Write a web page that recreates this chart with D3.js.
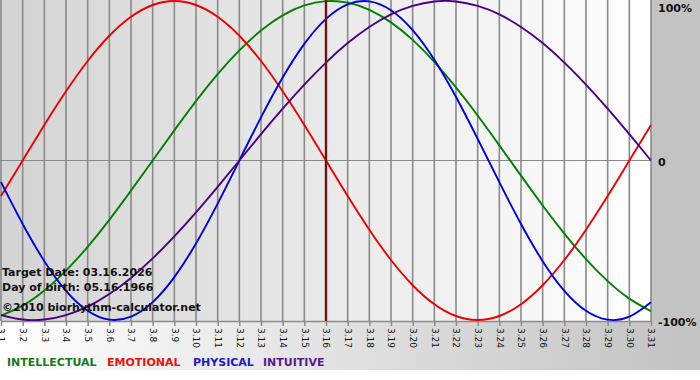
<!DOCTYPE html>
<html>
<head>
<meta charset="utf-8">
<script src="https://cdn.jsdelivr.net/npm/d3@7"></script>
<style>
  body { margin: 0; background: #fff; }
  svg { display: block; }
  text { font-family: "DejaVu Sans", Verdana, sans-serif; }
</style>
</head>
<body>
<svg id="chart" width="700" height="380"></svg>
<script>
// day labels along the bottom (March 2026)
const dayLabels = ['3.1','3.2','3.3','3.4','3.5','3.6','3.7','3.8','3.9','3.10',
  '3.11','3.12','3.13','3.14','3.15','3.16','3.17','3.18','3.19','3.20',
  '3.21','3.22','3.23','3.24','3.25','3.26','3.27','3.28','3.29','3.30','3.31']

// daily values, -1 .. 1
const intellectual = [-0.972,-0.910,-0.815,-0.690,-0.541,-0.372,-0.189,0,0.189,0.372,
  0.541,0.690,0.815,0.910,0.972,0.999,0.990,0.945,0.866,0.756,
  0.618,0.458,0.282,0.095,-0.095,-0.282,-0.458,-0.618,-0.756,-0.866,-0.945]
const emotional = [-0.223,0,0.223,0.434,0.624,0.782,0.901,0.975,1,0.975,
  0.901,0.782,0.624,0.434,0.223,0,-0.223,-0.434,-0.624,-0.782,
  -0.901,-0.975,-1,-0.975,-0.901,-0.782,-0.624,-0.434,-0.223,0,0.223]
const physical = [-0.136,-0.398,-0.631,-0.817,-0.942,-0.998,-0.979,-0.888,-0.731,-0.520,
  -0.270,0,0.270,0.520,0.731,0.888,0.979,0.998,0.942,0.817,
  0.631,0.398,0.136,-0.136,-0.398,-0.631,-0.817,-0.942,-0.998,-0.979,-0.888]
const intuitive = [-0.969,-0.997,-0.997,-0.969,-0.916,-0.837,-0.736,-0.614,-0.476,-0.325,
  -0.165,0,0.165,0.325,0.476,0.614,0.736,0.837,0.916,0.969,
  0.997,0.997,0.969,0.916,0.837,0.736,0.614,0.476,0.325,0.165,0]

const seriesNames = ['INTELLECTUAL', 'EMOTIONAL', 'PHYSICAL', 'INTUITIVE']
const seriesColors = ['#008000', '#ee0000', '#0000dd', '#4b0082']
const legendColors = ['#1a7a1a', '#ee1111', '#1a1acc', '#5a1a8a']
const yTickValues = [1, 0, -1]
const yTickLabels = ['100%', '0', '-100%']
const targetIndex = 15
const infoLines = ['Target Date: 03.16.2026', 'Day of birth: 05.16.1966', '\u00a92010 biorhythm-calculator.net']

const svg = d3.select('#chart')
const plotW = 651, plotBottom = 321

const defs = svg.append('defs')
const g1 = defs.append('linearGradient').attr('id', 'plotBg')
g1.append('stop').attr('offset', '0%').attr('stop-color', '#d4d4d4')
g1.append('stop').attr('offset', '100%').attr('stop-color', '#ffffff')
const g2 = defs.append('linearGradient').attr('id', 'bottomBg')
g2.append('stop').attr('offset', '0%').attr('stop-color', '#ffffff')
g2.append('stop').attr('offset', '100%').attr('stop-color', '#c2c2c2')

// backgrounds
svg.append('rect').attr('x', 0).attr('y', plotBottom).attr('width', 700).attr('height', 49)
  .attr('fill', 'url(#bottomBg)')
svg.append('rect').attr('x', plotW).attr('y', 0).attr('width', 700 - plotW).attr('height', plotBottom)
  .attr('fill', '#c3c3c3')
svg.append('rect').attr('x', 0).attr('y', 0).attr('width', plotW).attr('height', plotBottom)
  .attr('fill', 'url(#plotBg)')

const x = d3.scaleLinear().domain([0, dayLabels.length - 1]).range([1, plotW])
const y = d3.scaleLinear().domain([-1, 1]).range([320, 1])

// vertical grid
svg.append('g').selectAll('line').data(dayLabels).join('line')
  .attr('x1', (d, i) => x(i)).attr('x2', (d, i) => x(i))
  .attr('y1', 0).attr('y2', plotBottom)
  .attr('stroke', '#8a8a8a').attr('stroke-width', 1.6)

// zero line
svg.append('line').attr('x1', 0).attr('x2', plotW).attr('y1', y(0)).attr('y2', y(0))
  .attr('stroke', '#8a8a8a').attr('stroke-width', 1.2)

const xAxis = d3.axisBottom(x)
  .tickValues(d3.range(dayLabels.length))
  .tickFormat(i => dayLabels[i])
  .tickSizeInner(5).tickSizeOuter(0)
const ax = svg.append('g').attr('transform', `translate(0,${plotBottom})`).call(xAxis)
ax.select('.domain').attr('stroke', '#8a8a8a').attr('stroke-width', 1.5)
ax.selectAll('.tick line').attr('stroke', '#8a8a8a').attr('stroke-width', 1.5)
ax.selectAll('.tick text')
  .attr('font-family', '"Liberation Sans", Arial, sans-serif')
  .attr('font-size', 9).attr('fill', '#111')
  .attr('text-anchor', 'start')
  .attr('transform', 'rotate(90)')
  .attr('x', 7).attr('y', 0).attr('dy', '0.35em')

// curves
const allSeries = [intellectual, emotional, physical, intuitive]
const line = d3.line().x((d, i) => x(i)).y(d => y(d)).curve(d3.curveNatural)
svg.append('g').selectAll('path').data(allSeries).join('path')
  .attr('d', line)
  .attr('fill', 'none')
  .attr('stroke', (d, i) => seriesColors[i])
  .attr('stroke-width', 1.9)

// target day marker
svg.append('line')
  .attr('x1', x(targetIndex)).attr('x2', x(targetIndex))
  .attr('y1', 0).attr('y2', plotBottom)
  .attr('stroke', '#6e1414').attr('stroke-width', 2.4)

// right-hand percent labels
svg.append('g').selectAll('text').data(yTickValues).join('text')
  .attr('x', 658).attr('y', (d, i) => [12, 166, 326][i])
  .attr('font-size', 11).attr('font-weight', 'bold').attr('fill', '#111')
  .text((d, i) => yTickLabels[i])

// info text
svg.append('g').selectAll('text').data(infoLines).join('text')
  .attr('x', 2).attr('y', (d, i) => [276, 291, 311][i])
  .attr('font-size', 11).attr('font-weight', 'bold').attr('fill', '#111')
  .text(d => d)

// legend
const legendX = [7, 107, 193, 263]
svg.append('g').selectAll('text').data(seriesNames).join('text')
  .attr('x', (d, i) => legendX[i]).attr('y', 366)
  .attr('font-size', 11).attr('font-weight', 'bold')
  .attr('fill', (d, i) => legendColors[i])
  .text(d => d)
</script>
</body>
</html>
